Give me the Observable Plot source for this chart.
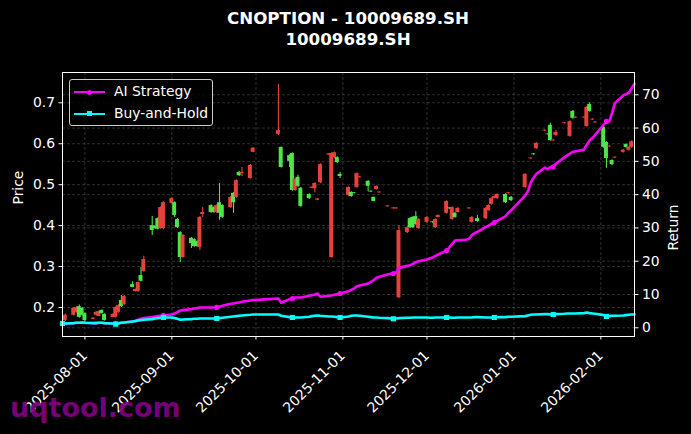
<!DOCTYPE html>
<html><head><meta charset="utf-8">
<script src="https://cdn.jsdelivr.net/npm/d3@7"></script>
<script src="https://cdn.jsdelivr.net/npm/@observablehq/plot@0.6"></script>
<style>
html,body{margin:0;padding:0;background:#000;}
body{width:691px;height:434px;overflow:hidden;position:relative;font-family:"DejaVu Sans",sans-serif;color:#fff;}
#title{position:absolute;left:0;top:0;width:696px;padding-top:8px;text-align:center;font-weight:bold;font-size:16.7px;line-height:21px;color:#fff;}
#chart{position:absolute;left:0;top:50px;}
#legend{position:absolute;left:69px;top:79px;width:142px;height:45px;border:1px solid #cccccc;border-radius:3px;background:rgba(0,0,0,0.8);}
.lg-line{position:absolute;left:4px;width:31px;height:2.6px;}
.lg-mark{position:absolute;}
.lg-text{position:absolute;left:44px;font-size:13.9px;line-height:16px;color:#fff;white-space:nowrap;}
#wm{position:absolute;left:10px;top:394px;font-weight:bold;font-size:27px;line-height:27px;color:#800080;opacity:0.92;}
</style>
</head><body>
<div id="title">CNOPTION - 10009689.SH<br>10009689.SH</div>
<div id="chart"></div>
<div id="legend">
  <div class="lg-line" style="top:10.7px;background:#ff00ff;"></div>
  <div class="lg-mark" style="left:17px;top:9.5px;width:5px;height:5px;border-radius:50%;background:#ff00ff;"></div>
  <div class="lg-text" style="top:3px;">AI Strategy</div>
  <div class="lg-line" style="top:32.7px;background:#00ffff;"></div>
  <div class="lg-mark" style="left:17px;top:31.3px;width:5px;height:5px;background:#00ffff;"></div>
  <div class="lg-text" style="top:25px;">Buy-and-Hold</div>
</div>
<div id="wm">uqtool.com</div>
<script>
// ---- Candlestick data (price) ----
const candleDates = ["2025-07-25","2025-07-28","2025-07-29","2025-07-30","2025-07-31","2025-08-01","2025-08-04","2025-08-05","2025-08-06","2025-08-07","2025-08-08","2025-08-11","2025-08-12","2025-08-13","2025-08-14","2025-08-15","2025-08-18","2025-08-19","2025-08-20","2025-08-21","2025-08-22","2025-08-25","2025-08-26","2025-08-27","2025-08-28","2025-08-29","2025-09-01","2025-09-02","2025-09-03","2025-09-04","2025-09-05","2025-09-08","2025-09-09","2025-09-10","2025-09-11","2025-09-12","2025-09-15","2025-09-16","2025-09-17","2025-09-18","2025-09-19","2025-09-22","2025-09-23","2025-09-24","2025-09-25","2025-09-26","2025-09-29","2025-09-30","2025-10-09","2025-10-10","2025-10-13","2025-10-14","2025-10-15","2025-10-16","2025-10-17","2025-10-20","2025-10-21","2025-10-22","2025-10-23","2025-10-24","2025-10-27","2025-10-28","2025-10-29","2025-10-30","2025-10-31","2025-11-03","2025-11-04","2025-11-05","2025-11-06","2025-11-07","2025-11-10","2025-11-11","2025-11-12","2025-11-13","2025-11-14","2025-11-17","2025-11-19","2025-11-20","2025-11-21","2025-11-24","2025-11-25","2025-11-26","2025-11-27","2025-11-28","2025-12-01","2025-12-03","2025-12-04","2025-12-05","2025-12-08","2025-12-09","2025-12-10","2025-12-11","2025-12-12","2025-12-16","2025-12-17","2025-12-19","2025-12-22","2025-12-23","2025-12-24","2025-12-25","2025-12-26","2025-12-29","2025-12-30","2025-12-31","2026-01-05","2026-01-07","2026-01-08","2026-01-09","2026-01-12","2026-01-13","2026-01-14","2026-01-15","2026-01-16","2026-01-19","2026-01-21","2026-01-22","2026-01-23","2026-01-26","2026-01-27","2026-01-28","2026-01-29","2026-01-30","2026-02-02","2026-02-03","2026-02-04","2026-02-05","2026-02-06","2026-02-09","2026-02-10","2026-02-11","2026-02-12"];
const openP  = [.181,.198,.200,.176,.181,.168,.174,.188,.190,.185,.168,.183,.200,.205,.202,.227,.249,.244,.261,.264,.317,.388,.393,.391,.444,.456,.466,.425,.395,.322,.376,.356,.349,.349,.420,.432,.432,.432,.449,.430,.420,.469,.456,.510,.522,.530,.547,.589,.632,.542,.557,.486,.513,.496,.447,.466,.494,.503,.465,.549,.575,.576,.578,.554,.520,.493,.471,.478,.527,.519,.496,.482,.459,.496,.482,.448,.443,.443,.388,.395,.395,.395,.403,.415,.420,.407,.415,.425,.459,.441,.444,.420,.442,.443,.420,.410,.442,.449,.466,.471,.476,.456,.480,.461,.525,.565,.573,.601,.633,.624,.608,.609,.628,.651,.654,.662,.665,.665,.689,.679,.660,.653,.591,.564,.594,.549,.567,.584,.591,.591,.605];
const highP  = [.184,.200,.202,.206,.200,.187,.175,.190,.192,.194,.185,.185,.202,.207,.229,.229,.263,.245,.262,.298,.325,.422,.400,.419,.446,.458,.468,.458,.417,.385,.378,.371,.368,.363,.422,.444,.451,.446,.451,.503,.451,.471,.481,.512,.532,.542,.549,.590,.745,.592,.573,.578,.515,.523,.493,.478,.495,.505,.466,.551,.576,.578,.580,.568,.530,.495,.483,.481,.529,.520,.510,.485,.470,.497,.483,.449,.444,.444,.400,.397,.419,.422,.434,.417,.422,.410,.417,.426,.461,.444,.446,.432,.444,.444,.422,.425,.444,.451,.468,.472,.478,.478,.481,.471,.527,.566,.576,.603,.634,.625,.650,.610,.633,.652,.656,.681,.666,.666,.691,.700,.661,.654,.642,.605,.595,.561,.568,.586,.600,.593,.607];
const lowP   = [.166,.179,.186,.174,.179,.163,.170,.180,.177,.184,.167,.175,.174,.186,.200,.205,.248,.238,.237,.262,.286,.376,.391,.389,.391,.390,.452,.420,.393,.310,.320,.344,.347,.347,.339,.420,.430,.430,.430,.413,.418,.442,.430,.467,.520,.520,.513,.578,.620,.541,.542,.484,.484,.494,.445,.464,.490,.480,.461,.503,.571,.320,.564,.552,.515,.472,.469,.477,.491,.516,.483,.481,.458,.487,.479,.445,.440,.440,.222,.381,.393,.393,.401,.391,.406,.406,.393,.419,.428,.440,.413,.418,.430,.440,.406,.408,.415,.435,.450,.465,.464,.454,.477,.459,.491,.562,.572,.586,.630,.621,.606,.606,.618,.648,.616,.660,.662,.662,.640,.677,.657,.650,.589,.540,.591,.547,.564,.577,.589,.582,.589];
const closeP = [.168,.181,.188,.202,.198,.185,.171,.181,.178,.193,.183,.176,.176,.188,.217,.207,.256,.239,.239,.278,.288,.400,.398,.417,.393,.393,.454,.456,.415,.383,.322,.369,.366,.361,.347,.427,.449,.444,.432,.456,.449,.444,.479,.469,.530,.527,.515,.579,.623,.591,.571,.576,.486,.518,.491,.476,.491,.490,.462,.505,.572,.322,.566,.566,.525,.474,.481,.480,.493,.517,.508,.484,.469,.488,.480,.446,.441,.441,.224,.383,.417,.420,.422,.393,.408,.409,.395,.420,.430,.443,.415,.430,.432,.441,.408,.417,.417,.437,.452,.466,.466,.476,.478,.469,.493,.563,.575,.588,.631,.622,.645,.607,.620,.649,.618,.679,.663,.663,.642,.696,.658,.651,.640,.603,.592,.559,.565,.579,.598,.584,.591];

// ---- Return series (right axis, %) ----
const tradeDates = ["2025-07-24","2025-07-25","2025-07-28","2025-07-29","2025-07-30","2025-07-31","2025-08-01","2025-08-04","2025-08-05","2025-08-06","2025-08-07","2025-08-08","2025-08-11","2025-08-12","2025-08-13","2025-08-14","2025-08-15","2025-08-18","2025-08-19","2025-08-20","2025-08-21","2025-08-22","2025-08-25","2025-08-26","2025-08-27","2025-08-28","2025-08-29","2025-09-01","2025-09-02","2025-09-03","2025-09-04","2025-09-05","2025-09-08","2025-09-09","2025-09-10","2025-09-11","2025-09-12","2025-09-15","2025-09-16","2025-09-17","2025-09-18","2025-09-19","2025-09-22","2025-09-23","2025-09-24","2025-09-25","2025-09-26","2025-09-29","2025-09-30","2025-10-09","2025-10-10","2025-10-13","2025-10-14","2025-10-15","2025-10-16","2025-10-17","2025-10-20","2025-10-21","2025-10-22","2025-10-23","2025-10-24","2025-10-27","2025-10-28","2025-10-29","2025-10-30","2025-10-31","2025-11-03","2025-11-04","2025-11-05","2025-11-06","2025-11-07","2025-11-10","2025-11-11","2025-11-12","2025-11-13","2025-11-14","2025-11-17","2025-11-18","2025-11-19","2025-11-20","2025-11-21","2025-11-24","2025-11-25","2025-11-26","2025-11-27","2025-11-28","2025-12-01","2025-12-02","2025-12-03","2025-12-04","2025-12-05","2025-12-08","2025-12-09","2025-12-10","2025-12-11","2025-12-12","2025-12-15","2025-12-16","2025-12-17","2025-12-18","2025-12-19","2025-12-22","2025-12-23","2025-12-24","2025-12-25","2025-12-26","2025-12-29","2025-12-30","2025-12-31","2026-01-05","2026-01-06","2026-01-07","2026-01-08","2026-01-09","2026-01-12","2026-01-13","2026-01-14","2026-01-15","2026-01-16","2026-01-19","2026-01-20","2026-01-21","2026-01-22","2026-01-23","2026-01-26","2026-01-27","2026-01-28","2026-01-29","2026-01-30","2026-02-02","2026-02-03","2026-02-04","2026-02-05","2026-02-06","2026-02-09","2026-02-10","2026-02-11","2026-02-12","2026-02-13"];
const aiReturn = [1.3,1.3,1.4,1.5,1.5,1.6,1.5,1.4,1.4,1.5,1.5,1.4,1.3,1.3,1.4,1.5,1.6,
  1.9,2.1,2.4,2.7,2.9,3.2,3.4,3.5,3.6,3.7,
  4.0,4.3,4.7,5.2,5.3,5.6,5.8,5.9,6.1,6.1,6.1,6.1,6.1,6.3,6.6,7.2,7.3,7.5,7.6,7.8,8.2,8.3,
  8.8,7.5,8.6,8.8,9.1,9.1,9.1,9.6,9.8,10.0,10.3,9.3,9.6,9.7,9.9,10.1,10.3,
  11.0,11.4,11.8,12.5,12.7,13.3,13.8,14.3,15.0,15.3,16.0,16.2,16.3,16.6,18.0,18.6,18.8,19.2,19.7,20.0,
  20.5,20.8,21.1,21.6,22.0,23.2,24.2,25.2,26.2,26.3,26.4,26.8,27.8,28.5,28.8,30.3,30.7,31.2,31.6,32.1,33.5,34.5,35.3,
  39.7,41.0,43.6,45.0,46.2,48.1,47.6,48.3,48.3,49.3,51.2,51.8,52.3,52.9,53.0,53.5,55.0,56.3,57.0,58.0,
  61.0,62.0,62.0,64.5,67.5,69.8,70.2,70.6,72.0,73.3];
const bhReturn = [1.3,1.3,1.4,1.5,1.5,1.6,1.5,1.4,1.4,1.5,1.5,1.4,1.3,1.1,1.3,1.5,1.6,
  1.9,2.0,2.2,2.3,2.4,2.6,2.8,2.9,3.0,3.1,
  3.1,2.9,2.7,2.4,2.5,2.6,2.7,2.7,2.8,2.8,2.8,2.8,2.8,2.9,3.0,3.3,3.4,3.5,3.6,3.7,3.9,4.0,
  4.0,3.6,3.2,3.1,3.1,3.1,3.1,3.3,3.5,3.6,3.7,3.6,3.4,3.4,3.3,3.2,3.1,
  3.4,3.6,3.7,3.7,3.6,3.3,3.2,3.1,3.1,3.0,2.9,2.8,2.7,2.8,2.9,3.0,3.0,3.1,3.1,3.1,
  3.1,3.0,3.0,3.1,3.1,3.1,3.1,3.0,3.0,3.1,3.1,3.1,3.1,3.2,3.2,3.1,3.1,3.1,3.1,3.2,3.2,3.3,3.3,
  3.5,3.7,3.9,4.0,4.0,4.1,4.1,4.0,4.0,4.1,4.2,4.3,4.3,4.3,4.3,4.4,4.6,4.4,4.3,4.2,
  3.8,3.4,3.5,3.6,3.6,3.7,3.8,3.9,4.0,4.0];

// ---- Axis ticks ----
const monthTicks = ["2025-08-01","2025-09-01","2025-10-01","2025-11-01","2025-12-01","2026-01-01","2026-02-01"];
const priceTicks = [0.2,0.3,0.4,0.5,0.6,0.7];
const returnTicks = [0,10,20,30,40,50,60,70];
const markEvery = 13;

const UP = "#4ee44a", DOWN = "#e8413c", AI = "#ff00ff", BH = "#00ffff";
const GRID = {stroke:"#9a9a9a", strokeOpacity:0.45, strokeDasharray:"3,2", strokeWidth:0.7};

const candles = candleDates.map((d,i)=>({date:new Date(d), open:openP[i], high:highP[i], low:lowP[i], close:closeP[i]}));
const series = tradeDates.map((d,i)=>({date:new Date(d), ai:aiReturn[i], bh:bhReturn[i], i}));
const months = monthTicks.map(d=>new Date(d));
const fmtDate = d3.utcFormat("%Y-%m-%d");

// right axis (return) mapped onto the left (price) scale
const priceDomain = [0.12915, 0.774];
const returnDomain = [-2.62, 76.69];
const r2p = d3.scaleLinear(returnDomain, priceDomain);
const col = d => d.close >= d.open ? UP : DOWN;

const chart = Plot.plot({
  width: 691, height: 384,
  marginTop: 22, marginBottom: 98, marginLeft: 62, marginRight: 57,
  style: {background:"#000", color:"#fff", fontFamily:"DejaVu Sans, sans-serif", fontSize:"13.9px"},
  x: {type:"utc", domain:[new Date("2025-07-24"), new Date("2026-02-13")]},
  y: {domain: priceDomain},
  marks: [
    Plot.gridX(months, GRID),
    Plot.gridY(priceTicks, GRID),
    Plot.gridY(returnTicks.map(r2p), GRID),
    Plot.ruleX(candles, {x:"date", y1:"low", y2:"high", stroke:col, strokeWidth:1.1}),
    Plot.rect(candles, {x1:d=>d3.utcHour.offset(d.date,-17), x2:d=>d3.utcHour.offset(d.date,17), y1:"open", y2:"close", fill:col}),
    Plot.line(series, {x:"date", y:d=>r2p(d.ai), stroke:AI, strokeWidth:2.6}),
    Plot.dot(series.filter(d=>d.i % markEvery === 0), {x:"date", y:d=>r2p(d.ai), r:2.6, fill:AI}),
    Plot.line(series, {x:"date", y:d=>r2p(d.bh), stroke:BH, strokeWidth:2.6}),
    Plot.dot(series.filter(d=>d.i % markEvery === 0), {x:"date", y:d=>r2p(d.bh), r:2.9, symbol:"square", fill:BH}),
    Plot.frame({stroke:"#fff", strokeWidth:1}),
    Plot.axisX({ticks:months, tickFormat:()=>"", tickSize:3.5, label:null}),
    Plot.text(months, {x:d=>d, text:d=>fmtDate(d), frameAnchor:"bottom", rotate:-45, textAnchor:"end", lineAnchor:"top", dx:-4, dy:13, fill:"#fff"}),
    Plot.axisY({anchor:"left", ticks:priceTicks, tickFormat:d3.format(".1f"), tickSize:3.5, tickPadding:4, label:null}),
    Plot.axisY({anchor:"right", ticks:returnTicks.map(r2p), tickFormat:p=>String(Math.round(r2p.invert(p))), tickSize:3.5, tickPadding:4, label:null}),
    Plot.text(["Price"], {text:d=>d, frameAnchor:"left", dx:-44, rotate:-90, fill:"#fff"}),
    Plot.text(["Return"], {text:d=>d, frameAnchor:"right", dx:39, rotate:-90, fill:"#fff"})
  ]
});
document.getElementById("chart").appendChild(chart);
</script>
</body></html>
